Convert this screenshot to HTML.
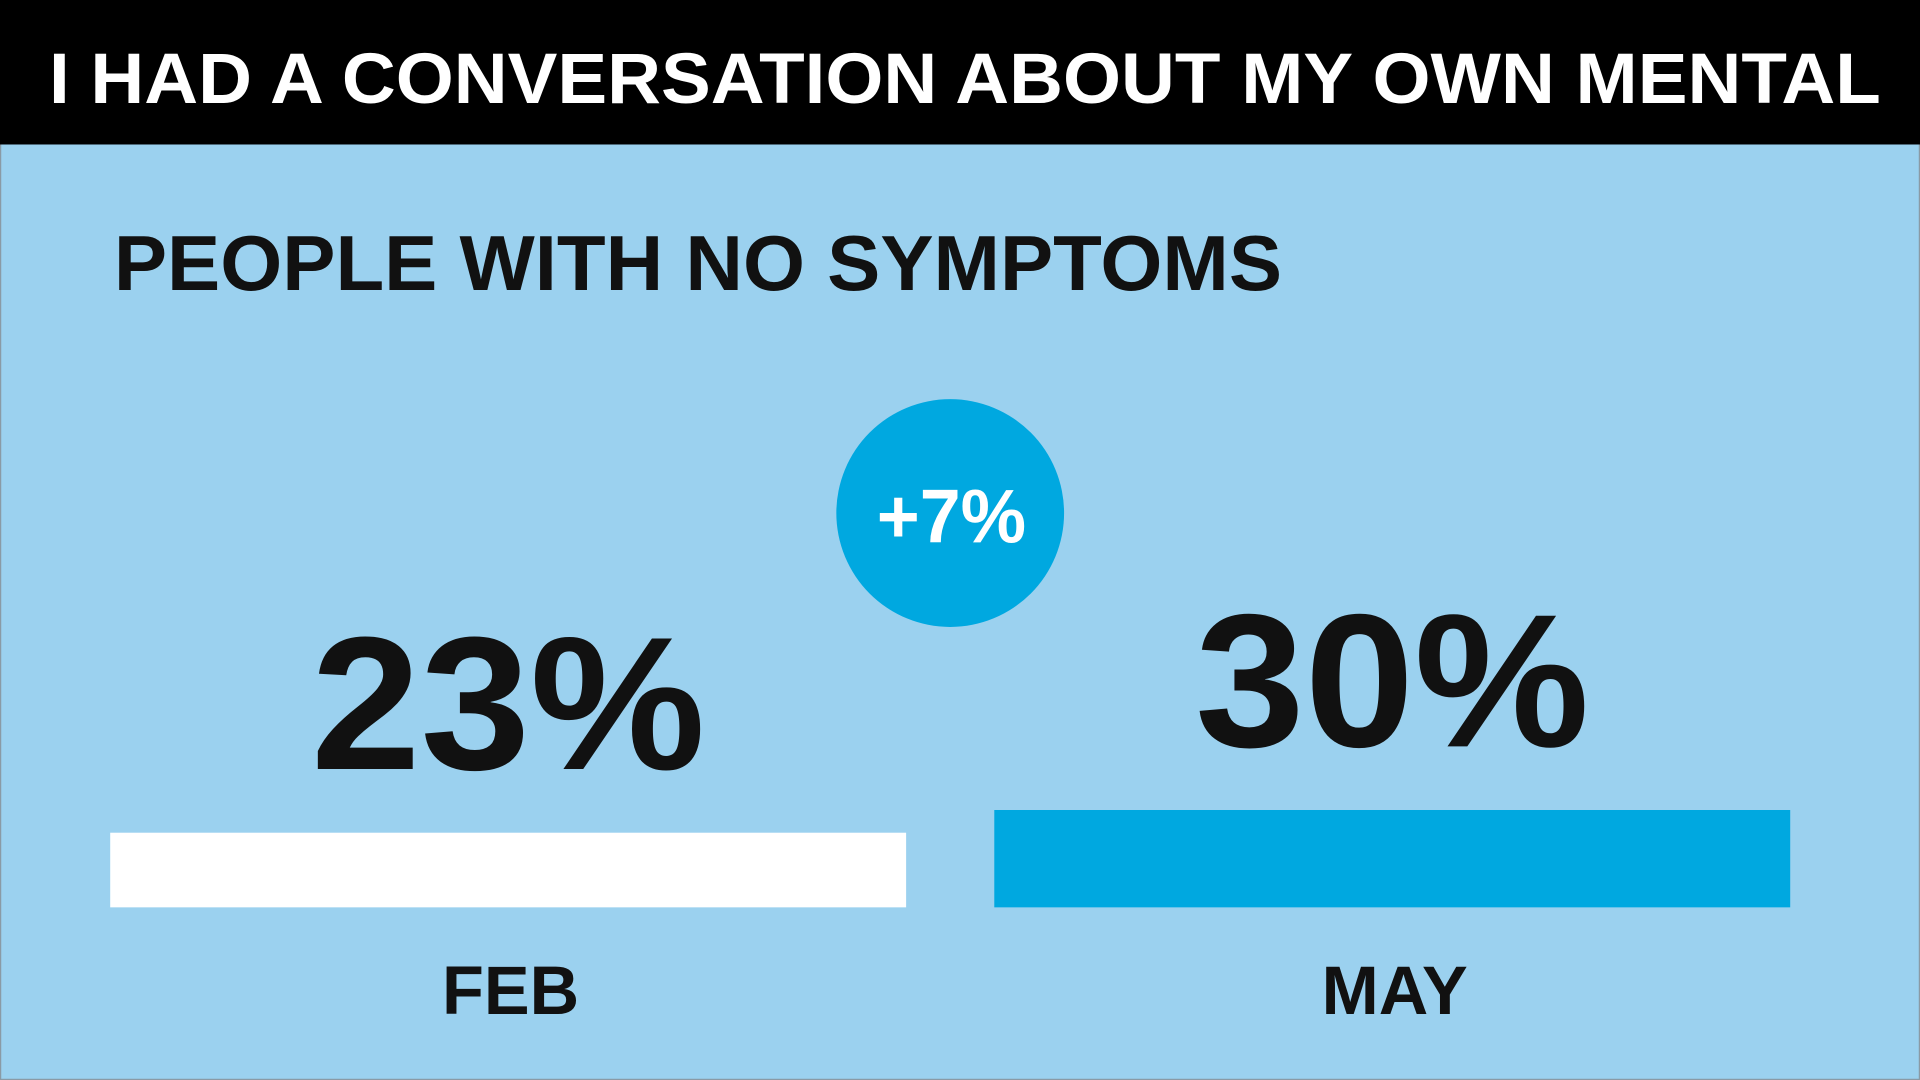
<!DOCTYPE html>
<html><head><meta charset="utf-8"><style>html,body{margin:0;padding:0;background:#9bd1ef;}svg{display:block}</style></head>
<body>
<svg id="chart" width="1920" height="1080" viewBox="0 0 1568 882" preserveAspectRatio="none" xmlns="http://www.w3.org/2000/svg" font-family="'Liberation Sans', sans-serif" font-weight="bold">
<rect x="0.5" y="0.5" width="1567" height="881" fill="#9bd1ef" stroke="#8a9aa5" stroke-width="1"/>
<rect x="0" y="0" width="1568" height="118" fill="#000"/>
<text x="40" y="84" font-size="58" fill="#fff" textLength="1496" lengthAdjust="spacingAndGlyphs">I HAD A CONVERSATION ABOUT MY OWN MENTAL</text>
<text x="93" y="237" font-size="64" fill="#111" textLength="954" lengthAdjust="spacingAndGlyphs">PEOPLE WITH NO SYMPTOMS</text>
<circle cx="776" cy="419" r="93" fill="#00a8e0"/>
<text x="777" y="443" font-size="62" fill="#fff" text-anchor="middle" textLength="122" lengthAdjust="spacingAndGlyphs">+7%</text>
<g id="bars"></g>
<script>
const categories = ['FEB', 'MAY'];
const values = [23, 30];
const valueLabels = ['23%', '30%'];
const barColors = ['#ffffff', '#00a8e0'];
(function(){
  const ns='http://www.w3.org/2000/svg';
  const g=document.getElementById('bars');
  const baseY=741, perUnit=2.65;
  const xBand=i=>90+i*722, bw=650;
  const y=v=>baseY-v*perUnit;
  categories.forEach((c,i)=>{
    const r=document.createElementNS(ns,'rect');
    
    
    r.setAttribute('x',xBand(i));r.setAttribute('y',y(values[i]));
    r.setAttribute('width',bw);r.setAttribute('height',baseY-y(values[i]));
    r.setAttribute('fill',barColors[i]);g.appendChild(r);
    const t=document.createElementNS(ns,'text');
    
    
    t.setAttribute('x',xBand(i)+bw/2);t.setAttribute('y',y(values[i])-52);
    t.setAttribute('font-size','155');t.setAttribute('fill','#111');
    t.setAttribute('text-anchor','middle');
    t.setAttribute('textLength','322');t.setAttribute('lengthAdjust','spacingAndGlyphs');
    t.textContent=valueLabels[i];g.appendChild(t);
    const l=document.createElementNS(ns,'text');
    
    
    l.setAttribute('x',xBand(i)+bw/2+2);l.setAttribute('y',828);
    l.setAttribute('font-size','56');l.setAttribute('fill','#111');
    l.setAttribute('text-anchor','middle');
    l.textContent=c;g.appendChild(l);
  });
})();
</script>
</svg>
</body></html>
